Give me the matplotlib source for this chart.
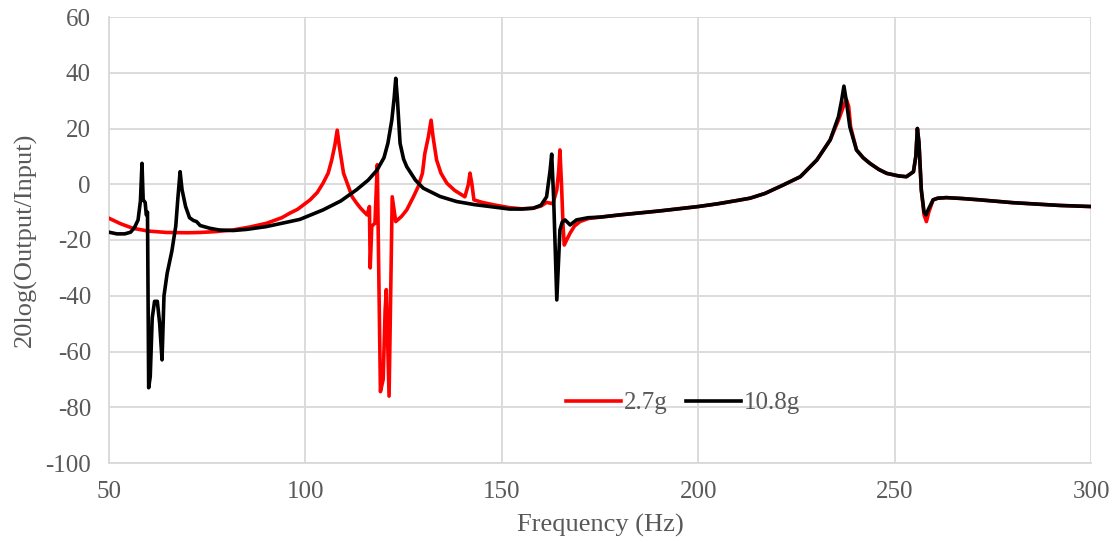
import matplotlib
matplotlib.use("Agg")
import matplotlib.pyplot as plt

# ---- data ----
freq_108 = [50, 52, 54, 55.5, 56.5, 57.4, 58.0, 58.4, 58.7, 59.2, 59.5, 59.8, 60.1, 60.5, 61.0, 61.6, 62.3, 62.9,
            63.5, 64.0, 64.8, 66.0, 67.0, 67.5, 68.1, 68.6, 69.5, 70.5, 71.5, 72.3, 73.2, 75.7, 78, 81.6, 85, 90,
            95, 98.6, 104.5, 109, 113, 116, 118.2, 120, 121, 122, 122.6, 123, 123.4, 124.1, 125, 125.8, 128, 130,
            134.3, 138.5, 143, 147, 152, 155, 158, 160, 161.4, 162.3, 162.7, 163.2, 164.0, 164.8, 165.4, 166.1,
            167.4, 169, 172, 175, 180, 185, 190, 195, 200, 205, 210, 213.2, 217, 221.6, 226, 230.2, 233.6, 235.7,
            236.5, 237.1, 237.7, 238.6, 240.3, 242, 243.7, 246, 248, 251, 253, 254.8, 255.4, 255.8, 256.2, 256.8,
            257.5, 258, 258.6, 259.8, 261, 263.2, 267, 271.7, 280, 292, 300]
gain_108 = [-17.2, -17.8, -17.8, -17.2, -15.5, -12.8, -6, 7.5, -5.6, -6.5, -11, -10, -73, -69, -48, -42, -42, -50,
            -63, -40, -32, -24, -15, -5.6, 4.5, -2, -8, -12, -13, -13.4, -14.8, -15.8, -16.4, -16.6, -16.2, -15.2,
            -13.7, -12.6, -9.2, -6, -2, 1.5, 5, 9.5, 14.7, 23, 31, 38, 31, 14.7, 9, 6.3, 1.5, -1.4,
            -4.4, -6.2, -7.3, -8, -8.9, -8.9, -8.6, -7.5, -4.5, 5, 10.8, -5, -41.5, -16.4, -13.5, -12.8,
            -14.6, -12.8, -12, -11.8, -11, -10.3, -9.6, -8.8, -8, -7, -5.8, -5, -3.3, -0.3, 2.7, 8.7, 15.9, 24.2,
            30, 35.2, 30, 20.6, 12.3, 9.5, 7.5, 5.3, 3.9, 3, 2.7, 4.5, 10, 20, 15, -2,
            -10, -11, -9, -5.6, -5, -4.8, -5.1, -5.6, -6.6, -7.6, -8]

freq_27 = [50, 53, 56.1, 60, 64.7, 70, 73.2, 77, 81.6, 86, 90.1, 94, 96, 98, 101.2, 103, 104.5, 105.8, 106.7, 107.5,
           108.1, 108.6, 109.7, 111, 111.9, 113, 114, 115, 115.7, 116.3, 116.5, 116.9, 117.7, 118.3, 119.1, 119.8,
           120.3, 120.6, 121.3, 122.1, 123, 124.5, 125.8, 127.5, 128.7, 129.8, 130.4, 131.3, 132, 132.5, 133.4,
           134.5, 136, 138, 140.6, 141.5, 141.9, 142.4, 142.9, 145, 148, 152, 155, 158, 160, 161.4, 163, 164,
           164.5, 164.8, 165.2, 165.6, 165.9, 166.5, 167.4, 168.5, 169.9, 172, 175, 180, 185, 190, 195, 200, 205,
           210, 213.2, 217, 221.6, 226, 230.2, 233.6, 235.7, 237, 237.7, 238.3, 238.8, 240.3, 242, 243.7, 246, 248,
           251, 253, 254.8, 255.4, 255.8, 256.2, 256.8, 257.5, 258.1, 258.7, 259.8, 261, 263.2, 267, 271.7, 280,
           292, 300]
gain_27 = [-12.2, -14.2, -15.8, -16.8, -17.3, -17.4, -17.3, -17, -16.4, -15.3, -14, -12, -10.4, -9, -5.6, -3, 0.4,
           4, 8.7, 14, 19.4, 14, 4, -1, -4.5, -6.7, -8.5, -10, -11, -8, -30, -15, -14, 7, -74.4, -70,
           -45, -37.8, -76, -4.5, -13.4, -11.5, -9.2, -4.5, -0.9, 4, 11, 17, 23, 17, 8.7,
           4, 0.4, -2.2, -4.5, 0, 4, 0, -5.6, -6.5, -7.4, -8.4, -8.8, -8.6, -7.8, -6.5, -7, -2,
           5, 12.3, 0, -15, -21.8, -20, -17.5, -15, -13.4, -12.3, -11.8, -11, -10.3, -9.6, -8.8, -8, -7,
           -5.8, -5, -3.3, -0.3, 2.7, 8.7, 15.9, 23, 28, 30.5, 28, 20.6, 12.3, 9.5, 7.5, 5.3, 3.9,
           3, 2.7, 4.5, 10, 20, 15, -2, -11, -13.4, -10, -5.6, -5, -4.8, -5.1, -5.6, -6.6,
           -7.6, -8]

series_labels = ["2.7g", "10.8g"]
x_ticks = [50, 100, 150, 200, 250, 300]
y_ticks = [-100, -80, -60, -40, -20, 0, 20, 40, 60]

# ---- plotting ----
plt.rcParams['font.family'] = ['Liberation Serif', 'DejaVu Serif']
plt.rcParams['axes.unicode_minus'] = False
text_color = '#595959'
grid_color = '#d9d9d9'

fig = plt.figure(figsize=(11.15, 5.43), dpi=100)
ax = fig.add_axes([109/1115, 1 - 463/543, (1091-109)/1115, (463-17)/543])

ax.plot(freq_27, gain_27, color='#ff0000', lw=2.6, label=series_labels[0], solid_joinstyle='round', zorder=3)
ax.plot(freq_108, gain_108, color='#000000', lw=2.6, label=series_labels[1], solid_joinstyle='round', zorder=4)

ax.set_xlim(50, 300)
ax.set_ylim(-100, 60)
ax.set_xticks(x_ticks)
ax.set_yticks(y_ticks)
ax.grid(True, color=grid_color, lw=1.3)
ax.set_axisbelow(True)
for s in ['top', 'right']:
    ax.spines[s].set_visible(False)
for s in ['left', 'bottom']:
    ax.spines[s].set_color(grid_color)
    ax.spines[s].set_linewidth(1.3)
ax.tick_params(axis='both', length=0, labelsize=18, colors=text_color, pad=13)
ax.set_xlabel('Frequency (Hz)', fontsize=19, color=text_color, labelpad=8)
ax.set_ylabel('20log(Output/Input)', fontsize=19, color=text_color, labelpad=6)

leg = ax.legend(loc='center', bbox_to_anchor=(0.5845, 0.1345), ncol=2, frameon=False,
                fontsize=18, handlelength=2.2, handletextpad=0.12, columnspacing=0.75)
for t in leg.get_texts():
    t.set_color(text_color)

fig.savefig('out.png', dpi=100)
